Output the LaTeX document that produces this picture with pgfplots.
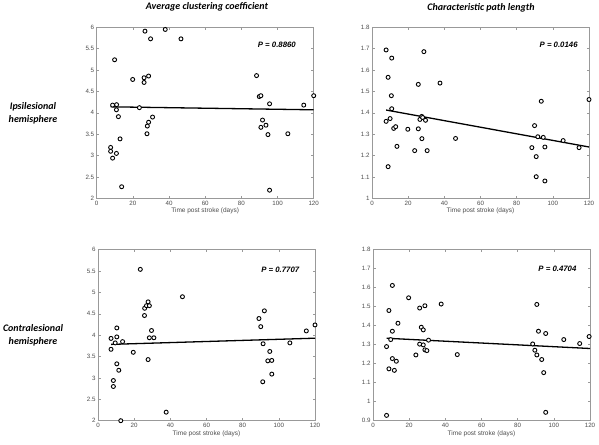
\documentclass[border=0pt]{standalone}
\usepackage{fontspec}
\setmainfont{Liberation Sans}
\newfontfamily\calib{Carlito}
\usepackage{pgfplots}
\pgfplotsset{compat=1.18}
\definecolor{framegray}{gray}{0.6}
\definecolor{tickgray}{gray}{0.3}
\pgfplotsset{
 panel/.style={
  scale only axis, width=217pt, height=171pt,
  anchor=south west,
  xmin=0, xmax=120, xtick={0,20,40,60,80,100,120},
  axis line style={framegray, line width=0.6pt},
  tick style={framegray, line width=0.5pt},
  tick align=inside, major tick length=2.5pt,
  ticklabel style={font=\fontsize{6.2}{7}\selectfont, text=tickgray},
  xticklabel style={yshift=1pt},
  yticklabel style={xshift=1pt},
  /pgf/number format/assume math mode=true,
  xlabel={Time post stroke (days)},
  xlabel style={font=\fontsize{6.5}{8}\selectfont, text=tickgray, yshift=4pt},
  clip=false,
 },
 datapts/.style={only marks, mark=*, mark size=2pt, mark options={fill=white, draw=black, line width=0.9pt}},
 fitline/.style={black, line width=1.3pt, no marks},
}
\tikzset{pval/.style={font=\bfseries\itshape\fontsize{7.8}{9}\selectfont}}
\begin{document}
\begin{tikzpicture}
\path[use as bounding box] (0,0) rectangle (599pt,444pt);

% titles
\node[font=\calib\bfseries\itshape\fontsize{10}{12}\selectfont] at (207pt,437pt) {Average clustering coefficient};
\node[font=\calib\bfseries\itshape\fontsize{10}{12}\selectfont] at (481pt,436pt) {Characteristic path length};
\node[font=\calib\bfseries\itshape\fontsize{10}{13}\selectfont, align=center] at (33pt,331pt) {Ipsilesional\\hemisphere};
\node[font=\calib\bfseries\itshape\fontsize{10}{13}\selectfont, align=center] at (33pt,109pt) {Contralesional\\hemisphere};

% panel 1
\begin{axis}[panel, at={(96.7pt,245.7pt)}, ymin=2, ymax=6, ytick={2,2.5,3,3.5,4,4.5,5,5.5,6}]
\addplot[datapts] coordinates {(7.7,3.19)(7.7,3.10)(8.8,2.94)(8.8,4.18)(9.9,5.24)(10.9,3.05)(11,4.19)(10.9,4.07)(12,3.91)(12.9,3.39)(13.8,2.27)(19.9,4.78)(23.6,4.12)(26.2,4.82)(26.2,4.71)(26.7,5.91)(28.7,4.86)(28,3.69)(27.8,3.51)(28.7,3.78)(29.8,5.73)(30.9,3.90)(37.9,5.95)(46.6,5.73)(88.4,4.87)(89.9,4.38)(90.8,4.40)(90.8,3.66)(91.7,3.83)(93.6,3.71)(94.7,3.49)(95.6,4.21)(95.6,2.19)(105.7,3.51)(114.5,4.18)(120,4.40)};
\addplot[fitline] coordinates {(7.7,4.14)(120,4.07)};
\node[pval] at (axis description cs:0.83,0.897) {P = 0.8860};
\end{axis}

% panel 2
\begin{axis}[panel, at={(372pt,245.7pt)}, ymin=1, ymax=1.8, ytick={1,1.1,1.2,1.3,1.4,1.5,1.6,1.7,1.8}]
\addplot[datapts] coordinates {(7.8,1.694)(10.9,1.656)(8.9,1.566)(10.7,1.480)(10.9,1.419)(7.8,1.36)(10.0,1.373)(12.0,1.327)(13.1,1.335)(13.8,1.243)(8.9,1.148)(19.8,1.323)(23.6,1.223)(25.6,1.533)(25.6,1.325)(26.5,1.369)(27.5,1.383)(28.0,1.378)(27.6,1.279)(28.7,1.686)(29.6,1.365)(30.5,1.223)(37.6,1.539)(46.2,1.28)(88.4,1.237)(89.9,1.34)(90.8,1.195)(90.8,1.101)(91.7,1.288)(93.6,1.454)(94.7,1.285)(95.6,1.24)(95.6,1.081)(105.7,1.27)(114.5,1.237)(120,1.462)};
\addplot[fitline] coordinates {(7.8,1.413)(120,1.24)};
\node[pval] at (axis description cs:0.86,0.897) {P = 0.0146};
\end{axis}

% panel 3
\begin{axis}[panel, at={(98pt,23.3pt)}, ymin=2, ymax=6, ytick={2,2.5,3,3.5,4,4.5,5,5.5,6}]
\addplot[datapts] coordinates {(7.2,3.925)(7.2,3.67)(8.5,2.80)(8.5,2.94)(9.5,3.82)(10.4,4.17)(10.4,3.96)(10.4,3.33)(11.5,3.18)(12.6,2.0)(13.6,3.85)(19.5,3.60)(23.4,5.54)(25.7,4.46)(25.8,4.63)(26.8,4.69)(27.7,4.78)(28.4,4.69)(27.7,3.43)(28.4,3.94)(29.6,4.11)(30.9,3.94)(37.7,2.20)(46.7,4.90)(89,4.39)(90,4.20)(91.1,2.91)(91.3,3.80)(92,4.57)(93.9,3.40)(95,3.62)(96.1,3.41)(96.1,3.09)(106.1,3.82)(115.2,4.10)(120,4.24)};
\addplot[fitline] coordinates {(7.2,3.785)(120,3.93)};
\node[pval] at (axis description cs:0.84,0.88) {P = 0.7707};
\end{axis}

% panel 4
\begin{axis}[panel, at={(373pt,23.3pt)}, ymin=0.9, ymax=1.8, ytick={0.9,1,1.1,1.2,1.3,1.4,1.5,1.6,1.7,1.8}]
\addplot[datapts] coordinates {(7.5,1.290)(7.5,0.928)(8.8,1.173)(8.8,1.480)(9.8,1.327)(10.7,1.371)(10.7,1.227)(10.7,1.612)(11.8,1.165)(12.9,1.213)(13.8,1.413)(19.7,1.547)(23.7,1.246)(25.8,1.493)(25.8,1.303)(26.7,1.392)(27.8,1.378)(27.8,1.299)(28.7,1.505)(28.7,1.273)(29.8,1.269)(30.7,1.324)(37.7,1.514)(46.6,1.248)(88.3,1.304)(89.5,1.271)(90.6,1.246)(90.6,1.512)(91.5,1.371)(93.3,1.222)(94.4,1.153)(95.5,1.359)(95.5,0.944)(105.5,1.327)(114.3,1.306)(119.5,1.343)};
\addplot[fitline] coordinates {(7.5,1.334)(120,1.28)};
\node[pval] at (axis description cs:0.85,0.89) {P = 0.4704};
\end{axis}
\end{tikzpicture}
\end{document}
